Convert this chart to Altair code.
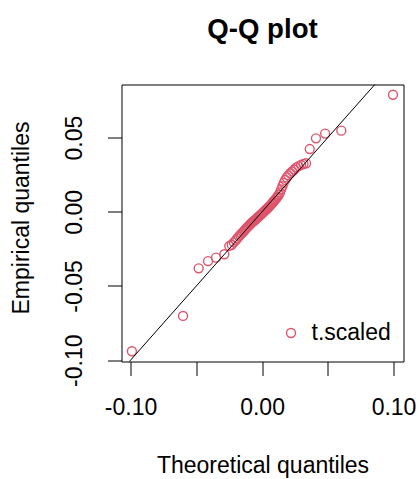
import altair as alt
import pandas as pd

theo = [-0.0990, -0.0601, -0.0482, -0.0411, -0.0350, -0.0287, -0.0249,
        -0.0230, -0.0215, -0.0200, -0.0188, -0.0176, -0.0165, -0.0155, -0.0145,
        -0.0136, -0.0127, -0.0118, -0.0110, -0.0102, -0.0094, -0.0087, -0.0080,
        -0.0073, -0.0066, -0.0059, -0.0052, -0.0046, -0.0039, -0.0033, -0.0026,
        -0.0020, -0.0013, -0.0007, 0.0000, 0.0007, 0.0013, 0.0020, 0.0026,
        0.0033, 0.0039, 0.0046, 0.0052, 0.0059, 0.0066, 0.0073, 0.0080,
        0.0087, 0.0094, 0.0102, 0.0110, 0.0118, 0.0127, 0.0136, 0.0145,
        0.0155, 0.0165, 0.0176, 0.0188, 0.0200, 0.0215, 0.0230,
        0.0245, 0.0259, 0.0278, 0.0297, 0.0315, 0.0335, 0.0363, 0.0410,
        0.0480, 0.0603, 0.0996]
emp = [-0.0940, -0.0702, -0.0381, -0.0332, -0.0309, -0.0286, -0.0230,
       -0.0222, -0.0206, -0.0192, -0.0179, -0.0166, -0.0156, -0.0146, -0.0137,
       -0.0128, -0.0119, -0.0110, -0.0102, -0.0095, -0.0088, -0.0081, -0.0075,
       -0.0070, -0.0064, -0.0059, -0.0054, -0.0049, -0.0044, -0.0038, -0.0033,
       -0.0028, -0.0022, -0.0017, -0.0011, -0.0005, 0.0000, 0.0006, 0.0011,
       0.0017, 0.0022, 0.0028, 0.0034, 0.0040, 0.0047, 0.0054, 0.0061,
       0.0068, 0.0076, 0.0084, 0.0093, 0.0103, 0.0115, 0.0130, 0.0150,
       0.0172, 0.0195, 0.0215, 0.0232, 0.0246, 0.0260, 0.0272,
       0.0285, 0.0298, 0.0308, 0.0316, 0.0322, 0.0327, 0.0423, 0.0495,
       0.0527, 0.0547, 0.0789]
series_name = "t.scaled"
ref_line = [-0.2, 0.2]
tick_values = [-0.10, -0.05, 0.00, 0.05, 0.10]
x_domain = [-0.1069, 0.1076]
y_domain = [-0.1009, 0.0858]

FONT = "Liberation Sans"

pts = pd.DataFrame({"theo": theo, "emp": emp, "series": series_name})
line_df = pd.DataFrame({"theo": ref_line, "emp": ref_line})

lab_expr_x = ("abs(datum.value) < 0.075 && abs(datum.value) > 0.025 ? '' : "
              "(datum.value < -0.001 ? '-' + format(-datum.value, '.2f') : format(abs(datum.value), '.2f'))")
lab_expr_y = ("datum.value < -0.001 ? '-' + format(-datum.value, '.2f') : format(abs(datum.value), '.2f')")

xscale = alt.Scale(domain=x_domain, nice=False, zero=False)
yscale = alt.Scale(domain=y_domain, nice=False, zero=False)

xaxis = alt.Axis(values=tick_values, labelExpr=lab_expr_x, title="Theoretical quantiles",
                 domain=False, grid=False, tickColor="black", tickSize=14, tickWidth=1,
                 labelFont=FONT, labelFontSize=23, labelColor="black", labelPadding=21,
                 labelBaseline="top", labelAlign="center",
                 titleFont=FONT, titleFontSize=23, titleFontWeight="normal", titleColor="black",
                 titleBaseline="alphabetic", titleY=111)
yaxis = alt.Axis(values=tick_values, labelExpr=lab_expr_y, title="Empirical quantiles",
                 domain=False, grid=False, tickColor="black", tickSize=14, tickWidth=1,
                 labelFont=FONT, labelFontSize=23, labelColor="black", labelPadding=26,
                 labelAngle=270, labelAlign="center", labelBaseline="alphabetic",
                 titleFont=FONT, titleFontSize=23, titleFontWeight="normal", titleColor="black",
                 titleAngle=270, titleAlign="center", titleBaseline="alphabetic",
                 titleX=-93, titleY=133)

points = alt.Chart(pts).mark_point(shape="circle", filled=False, size=80, strokeWidth=1.4,
                                   opacity=1).encode(
    x=alt.X("theo:Q", scale=xscale, axis=xaxis),
    y=alt.Y("emp:Q", scale=yscale, axis=yaxis),
    color=alt.Color("series:N", scale=alt.Scale(range=["#DF536B"]),
                    legend=alt.Legend(orient="none", legendX=158, legendY=237, title=None,
                                      padding=0, labelFont=FONT, labelFontSize=23,
                                      labelColor="black", labelOffset=9,
                                      symbolSize=80, symbolStrokeWidth=1.4,
                                      symbolType="circle")),
)

line = alt.Chart(line_df).mark_line(color="black", strokeWidth=1, clip=True).encode(
    x=alt.X("theo:Q", scale=xscale),
    y=alt.Y("emp:Q", scale=yscale),
)

chart = (points + line).properties(
    width=282, height=277,
    padding={"left": 121.5, "top": 84.5, "right": 15.5, "bottom": 117.5},
    autosize=alt.AutoSizeParams(type="none"),
    background="white",
    title=alt.TitleParams("Q-Q plot", font=FONT, fontSize=27.6, fontWeight="bold",
                          color="black", anchor="middle", baseline="alphabetic", offset=19),
).configure_view(stroke="black", strokeWidth=1)

chart.save("out.html", embed_options={"renderer": "svg", "actions": False})
